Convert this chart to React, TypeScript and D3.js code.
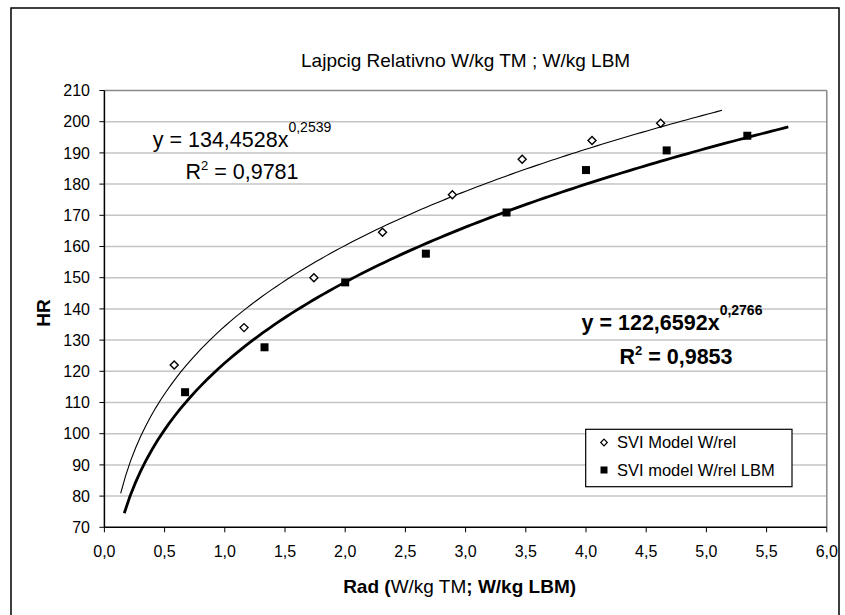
import React from "react";
import * as d3 from "d3";

const title = "Lajpcig Relativno W/kg TM ; W/kg LBM";
const seriesNames = ["SVI Model W/rel", "SVI model W/rel LBM"];

// W/kg TM (open diamonds)
const relX = [0.58, 1.16, 1.74, 2.31, 2.89, 3.47, 4.05, 4.62];
const relHR = [122, 134, 150, 164.6, 176.6, 188, 194, 199.5];
// W/kg LBM (filled squares)
const lbmX = [0.67, 1.33, 2.0, 2.67, 3.34, 4.0, 4.67, 5.34];
const lbmHR = [113.3, 127.7, 148.5, 157.7, 170.9, 184.5, 190.8, 195.5];

// power trendlines as printed on the chart: y = a * x^b
const relFit = [134.4528, 0.2539];
const lbmFit = [122.6592, 0.2766];
const relFitRange = [0.135, 5.13];
const lbmFitRange = [0.165, 5.68];

const xTicks = [0, 0.5, 1, 1.5, 2, 2.5, 3, 3.5, 4, 4.5, 5, 5.5, 6];
const yTicks = [70, 80, 90, 100, 110, 120, 130, 140, 150, 160, 170, 180, 190, 200, 210];

const W = 845;
const H = 615;
const font = "'Liberation Sans', Arial, sans-serif";

const x = d3.scaleLinear().domain([0, 6]).range([104.4, 826.8]);
const y = d3.scaleLinear().domain([70, 210]).range([527.3, 90.5]);

const comma = (v: number) => d3.format(".1f")(v).replace(".", ",");

function fitPoints(fit: number[], range: number[]) {
  const n = 120;
  return d3.range(n + 1).map((i) => {
    const xv = range[0] + ((range[1] - range[0]) * i) / n;
    return [xv, fit[0] * Math.pow(xv, fit[1])] as [number, number];
  });
}

const line = d3
  .line<[number, number]>()
  .x((d) => x(d[0]))
  .y((d) => y(d[1]));

const diamond = (cx: number, cy: number, r = 4) =>
  `M${cx},${cy - r}L${cx + r},${cy}L${cx},${cy + r}L${cx - r},${cy}Z`;

export default function App() {
  const [x0, x1] = x.range();
  const [y0, y1] = y.range();

  return (
    <svg
      width={W}
      height={H}
      style={{ position: "absolute", left: 0, top: 0, background: "#fff" }}
      fontFamily={font}
    >
      {/* outer frame */}
      <rect x={11} y={8} width={828} height={640} fill="none" stroke="#000" strokeWidth={1.5} />

      <text x={(x0 + x1) / 2} y={67} textAnchor="middle" fontSize={19}>
        {title}
      </text>

      {/* gridlines */}
      {yTicks.slice(1, -1).map((t) => (
        <line key={t} x1={x0} x2={x1} y1={y(t)} y2={y(t)} stroke="#c4c4c4" strokeWidth={1.5} />
      ))}
      <line x1={x0} x2={x1} y1={y1} y2={y1} stroke="#8a8a8a" strokeWidth={1.5} />
      <line x1={x1} x2={x1} y1={y1} y2={y0} stroke="#8a8a8a" strokeWidth={1.5} />

      {/* axes */}
      <line x1={x0} x2={x0} y1={y1} y2={y0} stroke="#000" strokeWidth={1.5} />
      <line x1={x0} x2={x1} y1={y0} y2={y0} stroke="#000" strokeWidth={1.5} />
      {yTicks.map((t) => (
        <g key={t}>
          <line x1={x0 - 5} x2={x0} y1={y(t)} y2={y(t)} stroke="#000" />
          <text x={90} y={y(t)} dy="0.35em" textAnchor="end" fontSize={16}>
            {t}
          </text>
        </g>
      ))}
      {xTicks.map((t) => (
        <g key={t}>
          <line x1={x(t)} x2={x(t)} y1={y0} y2={y0 + 5} stroke="#000" />
          <text x={x(t)} y={557} textAnchor="middle" fontSize={16}>
            {comma(t)}
          </text>
        </g>
      ))}

      <text
        transform={`translate(50,313) rotate(-90)`}
        textAnchor="middle"
        fontSize={19}
        fontWeight="bold"
      >
        HR
      </text>
      <text x={(x0 + x1) / 2 - 6} y={593} textAnchor="middle" fontSize={19}>
        <tspan fontWeight="bold">Rad (</tspan>
        <tspan>W/kg TM</tspan>
        <tspan fontWeight="bold">; W/kg LBM)</tspan>
      </text>

      {/* trendlines */}
      <path d={line(fitPoints(relFit, relFitRange)) ?? ""} fill="none" stroke="#000" strokeWidth={1.1} />
      <path d={line(fitPoints(lbmFit, lbmFitRange)) ?? ""} fill="none" stroke="#000" strokeWidth={2.8} />

      {/* markers */}
      {relX.map((v, i) => (
        <path key={"r" + i} d={diamond(x(v), y(relHR[i]))} fill="#fff" stroke="#000" strokeWidth={1.4} />
      ))}
      {lbmX.map((v, i) => (
        <rect key={"l" + i} x={x(v) - 4} y={y(lbmHR[i]) - 4} width={8} height={8} fill="#000" />
      ))}

      {/* equations */}
      <text x={242} y={146.7} textAnchor="middle" fontSize={21.5}>
        y = 134,4528x
        <tspan dy={-15} fontSize={14}>0,2539</tspan>
      </text>
      <text x={242} y={179.3} textAnchor="middle" fontSize={21.5}>
        R<tspan dy={-9} fontSize={13}>2</tspan>
        <tspan dy={9}> = 0,9781</tspan>
      </text>
      <text x={672} y={330} textAnchor="middle" fontSize={21.5} fontWeight="bold">
        y = 122,6592x
        <tspan dy={-15} fontSize={14}>0,2766</tspan>
      </text>
      <text x={676} y={364.3} textAnchor="middle" fontSize={21.5} fontWeight="bold">
        R<tspan dy={-9} fontSize={13}>2</tspan>
        <tspan dy={9}> = 0,9853</tspan>
      </text>

      {/* legend */}
      <rect x={585.7} y={429.3} width={206.3} height={57.4} fill="#fff" stroke="#000" strokeWidth={1.2} />
      <path d={diamond(604, 442.5, 3.3)} fill="#fff" stroke="#000" strokeWidth={1.2} />
      <text x={617} y={447.5} fontSize={16.5}>
        {seriesNames[0]}
      </text>
      <rect x={600.5} y={466.5} width={7} height={7} fill="#000" />
      <text x={617} y={475.5} fontSize={16.5}>
        {seriesNames[1]}
      </text>
    </svg>
  );
}
